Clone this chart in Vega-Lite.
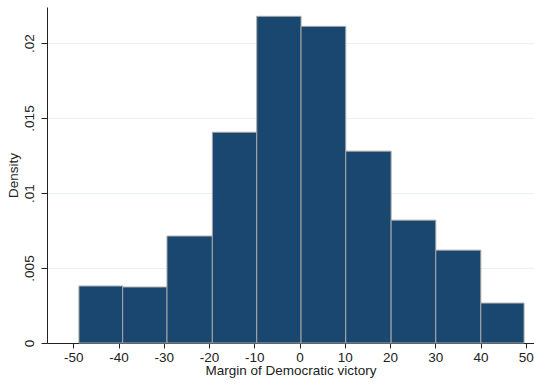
{
  "$schema": "https://vega.github.io/schema/vega-lite/v6.json",
  "width": 487,
  "height": 336,
  "autosize": {"type": "none"},
  "padding": {"left": 47, "top": 7, "right": 0, "bottom": 46},
  "background": "white",
  "config": {
    "view": {"stroke": null},
    "font": "Liberation Sans",
    "axis": {"labelFont": "Liberation Sans", "titleFont": "Liberation Sans", "labelColor": "#222222", "titleColor": "#222222", "titleFontWeight": "normal", "domainColor": "#222222", "tickColor": "#222222"}
  },
  "data": {
    "values": [
      {"start": -48.74, "end": -39.08, "density": 0.0038},
      {"start": -39.08, "end": -29.29, "density": 0.00373},
      {"start": -29.29, "end": -19.27, "density": 0.00713},
      {"start": -19.27, "end": -9.46, "density": 0.01405},
      {"start": -9.46, "end": 0.33, "density": 0.02178},
      {"start": 0.33, "end": 10.21, "density": 0.02111},
      {"start": 10.21, "end": 20.23, "density": 0.01279},
      {"start": 20.23, "end": 30.1, "density": 0.00819},
      {"start": 30.1, "end": 40.05, "density": 0.00619},
      {"start": 40.05, "end": 49.6, "density": 0.00266}
    ]
  },
  "mark": {"type": "rect", "fill": "#1a476f", "stroke": "#a8a8a8", "strokeWidth": 1},
  "encoding": {
    "x": {
      "field": "start", "type": "quantitative",
      "scale": {"domain": [-55.8, 51.8], "nice": false, "zero": false},
      "axis": {
        "title": "Margin of Democratic victory",
        "values": [-50, -40, -30, -20, -10, 0, 10, 20, 30, 40, 50],
        "labelExpr": "toString(datum.value)",
        "grid": false,
        "labelFontSize": 13.5,
        "titleFontSize": 13.5,
        "tickSize": 5,
        "labelPadding": 2,
        "titlePadding": 0,
        "labelFlush": false
      }
    },
    "x2": {"field": "end"},
    "y": {
      "field": "density", "type": "quantitative",
      "scale": {"domain": [0, 0.0224], "nice": false},
      "axis": {
        "title": "Density",
        "values": [0, 0.005, 0.01, 0.015, 0.02],
        "labelExpr": "datum.value == 0 ? '0' : replace(format(datum.value, '.3~f'), '0.', '.')",
        "labelAngle": 270,
        "labelAlign": "center",
        "labelBaseline": "bottom",
        "labelPadding": 5,
        "labelFontSize": 13.5,
        "titleFontSize": 13.5,
        "titlePadding": 2,
        "tickSize": 6,
        "grid": true,
        "gridColor": "#eaf1f2",
        "gridWidth": 1
      }
    },
    "y2": {"datum": 0}
  }
}
